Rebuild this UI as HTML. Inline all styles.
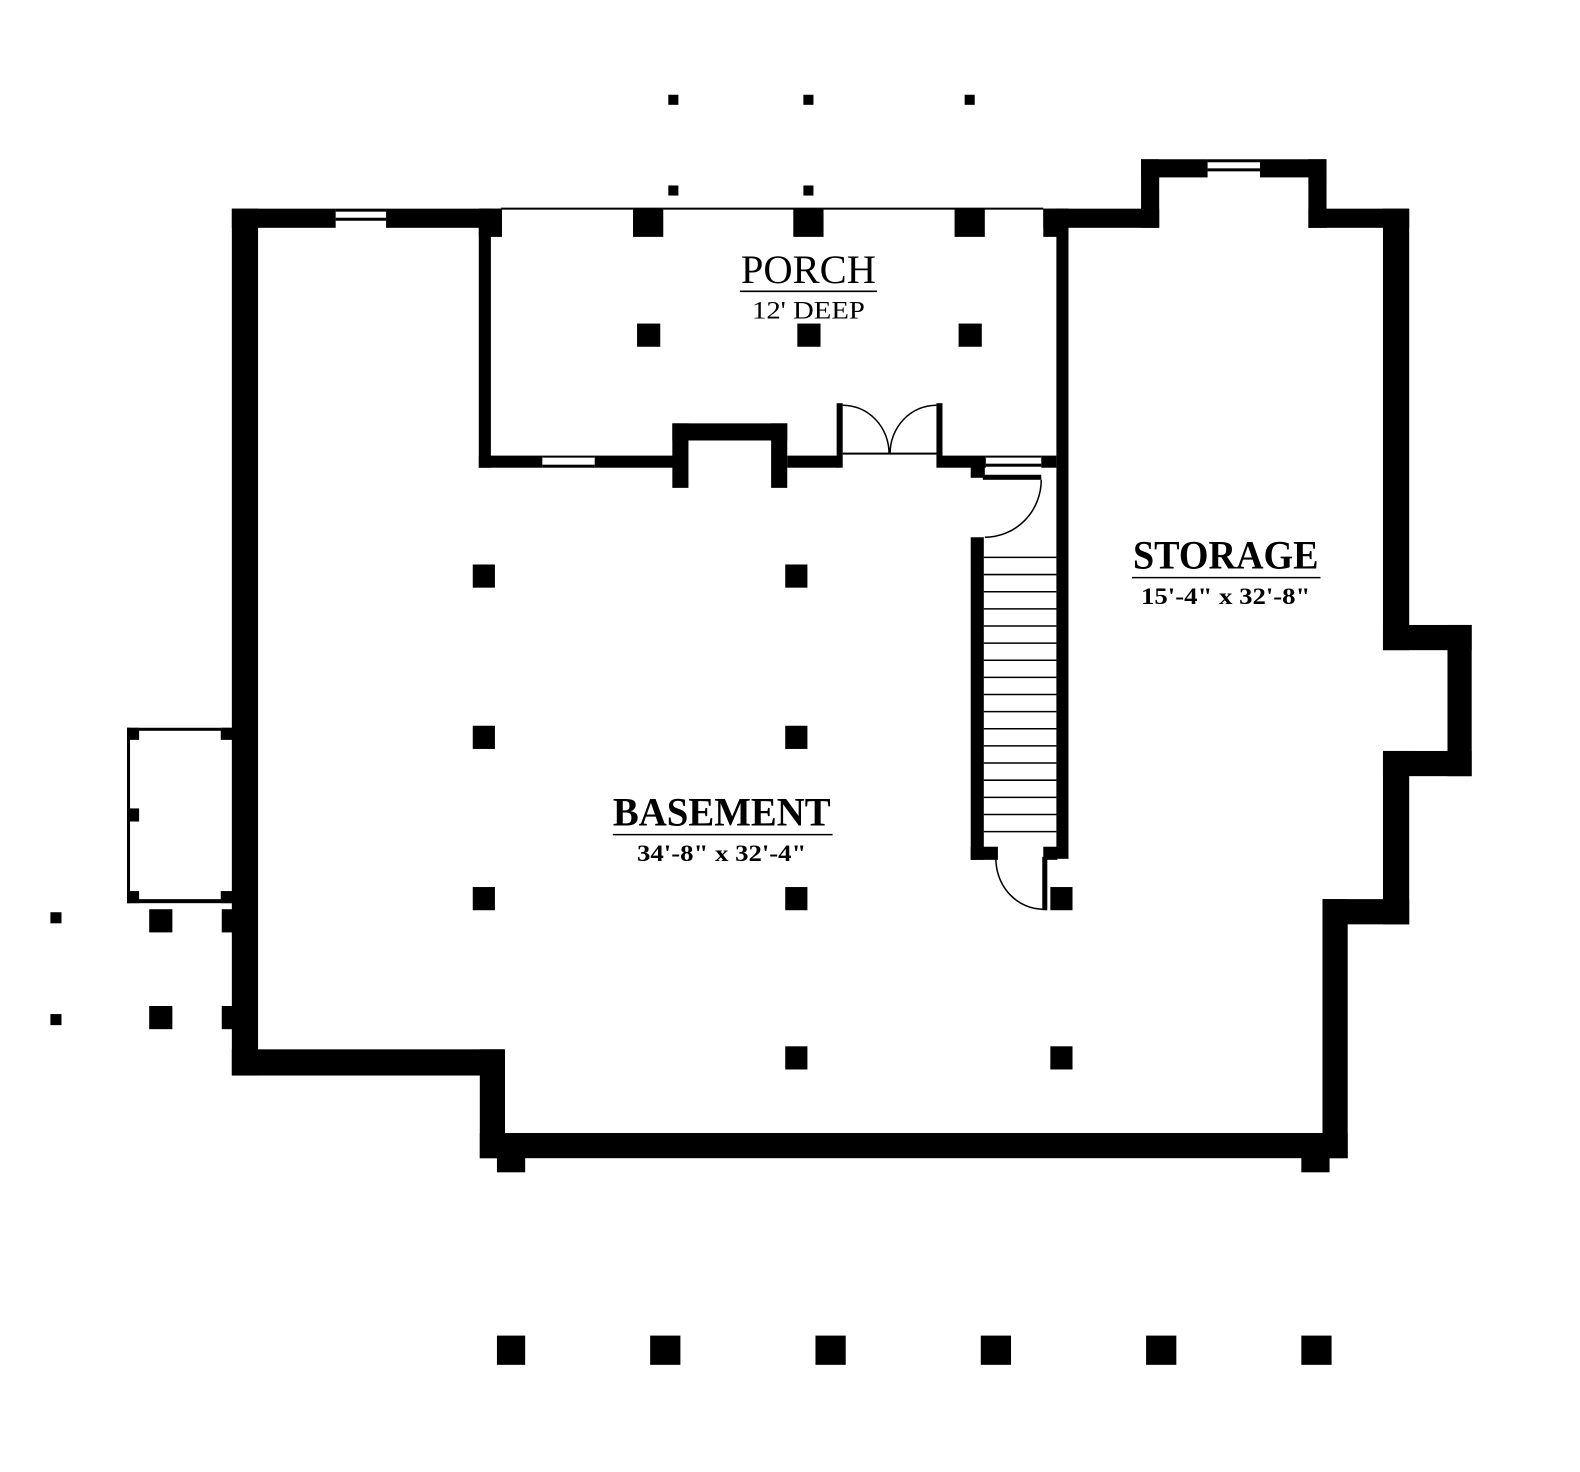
<!DOCTYPE html>
<html><head><style>html,body{margin:0;padding:0;background:#fff}svg{display:block}</style></head>
<body>
<svg width="1580" height="1472" viewBox="0 0 1580 1472" xmlns="http://www.w3.org/2000/svg">
<g transform="scale(1.008)">
<g fill="#000">
<rect x="230" y="207" width="103" height="19"/>
<rect x="383" y="207" width="114" height="19"/>
<rect x="333" y="207" width="50" height="3"/><rect x="333" y="216" width="50" height="3"/>
<rect x="230" y="207" width="26" height="860"/>
<rect x="230" y="1041" width="270" height="26"/>
<rect x="476" y="1041" width="25" height="108"/>
<rect x="476" y="1124" width="861" height="25"/>
<rect x="1312" y="892" width="25" height="257"/>
<rect x="1312" y="892" width="86" height="25"/>
<rect x="1372" y="745" width="26" height="172"/>
<rect x="1372" y="745" width="88" height="25"/>
<rect x="1436" y="620" width="24" height="150"/>
<rect x="1372" y="620" width="88" height="25"/>
<rect x="1372" y="207" width="26" height="438"/>
<rect x="1298" y="207" width="100" height="19"/>
<rect x="1298" y="158" width="18" height="68"/>
<rect x="1250" y="158" width="66" height="18"/>
<rect x="1132" y="158" width="66" height="18"/>
<rect x="1198" y="158" width="52" height="3"/><rect x="1198" y="167" width="52" height="3"/>
<rect x="1132" y="158" width="18" height="68"/>
<rect x="1035" y="207" width="115" height="19"/>
<rect x="497" y="206" width="538" height="2"/>
<rect x="475" y="207" width="23" height="28"/>
<rect x="475" y="207" width="12" height="257"/>
<rect x="1035" y="207" width="25" height="28"/>
<rect x="1048" y="207" width="12" height="645"/>
<rect x="628" y="207" width="30" height="28"/>
<rect x="787" y="207" width="30" height="28"/>
<rect x="947" y="207" width="30" height="28"/>
<rect x="632" y="321" width="23" height="23"/>
<rect x="791" y="321" width="23" height="23"/>
<rect x="951" y="321" width="23" height="23"/>
<rect x="663" y="94" width="10" height="10"/><rect x="797" y="94" width="10" height="10"/><rect x="957" y="94" width="10" height="10"/>
<rect x="663" y="184" width="10" height="10"/><rect x="797" y="184" width="10" height="10"/>
<rect x="475" y="452" width="63" height="12"/>
<rect x="538" y="452" width="52" height="2"/><rect x="538" y="461" width="52" height="3"/>
<rect x="590" y="452" width="78" height="12"/>
<rect x="667" y="420" width="114" height="17"/>
<rect x="667" y="420" width="16" height="64"/>
<rect x="765" y="420" width="16" height="64"/>
<rect x="781" y="452" width="51" height="12"/>
<rect x="830" y="400" width="6" height="64"/>
<rect x="929" y="400" width="6" height="64"/>
<rect x="836" y="449" width="93" height="2"/>
<rect x="935" y="452" width="43" height="12"/>
<rect x="978" y="452" width="55" height="2"/><rect x="978" y="460" width="55" height="3"/>
<rect x="1033" y="452" width="15" height="12"/>
<rect x="963" y="462" width="14" height="12"/>
<rect x="975" y="471" width="58" height="5"/>
<rect x="963" y="533" width="13" height="320"/>
<rect x="963" y="840" width="27" height="13"/>
<rect x="1035" y="840" width="14" height="13"/>
<rect x="1034" y="850" width="5" height="53"/>
<rect x="1042" y="880" width="22" height="23"/>
<rect x="469" y="560" width="22" height="23"/><rect x="779" y="560" width="22" height="23"/>
<rect x="469" y="720" width="22" height="23"/><rect x="779" y="720" width="22" height="23"/>
<rect x="469" y="880" width="22" height="23"/><rect x="779" y="880" width="22" height="23"/>
<rect x="779" y="1038" width="22" height="23"/><rect x="1042" y="1038" width="22" height="23"/>
<rect x="493" y="1148" width="28" height="15"/><rect x="1291" y="1148" width="28" height="15"/>
<rect x="493" y="1325" width="28" height="29"/><rect x="645" y="1325" width="30" height="29"/>
<rect x="809" y="1325" width="30" height="29"/><rect x="973" y="1325" width="30" height="29"/>
<rect x="1137" y="1325" width="30" height="29"/><rect x="1291" y="1325" width="30" height="29"/>
<rect x="126" y="722" width="104" height="3"/>
<rect x="126" y="892" width="104" height="4"/>
<rect x="126" y="722" width="3" height="174"/>
<rect x="126" y="722" width="12" height="12"/><rect x="219" y="722" width="12" height="12"/>
<rect x="126" y="884" width="12" height="12"/><rect x="219" y="884" width="12" height="12"/>
<rect x="126" y="802" width="12" height="13"/>
<rect x="148" y="902" width="23" height="23"/><rect x="148" y="998" width="23" height="23"/>
<rect x="220" y="902" width="12" height="23"/><rect x="220" y="998" width="12" height="23"/>
<rect x="50" y="905" width="11" height="11"/><rect x="50" y="1006" width="11" height="11"/>
</g>
<g stroke="#000" fill="none" stroke-width="1.5">
<path d="M836 402 A46 48 0 0 1 882 450"/>
<path d="M929 402 A46 48 0 0 0 883 450"/>
<path d="M1033 476 A56 57 0 0 1 977 533"/>
<path d="M988 852 A47 50 0 0 0 1035 902"/>
<line x1="976" y1="553" x2="1048" y2="553"/><line x1="976" y1="570" x2="1048" y2="570"/>
<line x1="976" y1="587" x2="1048" y2="587"/><line x1="976" y1="604" x2="1048" y2="604"/>
<line x1="976" y1="621" x2="1048" y2="621"/><line x1="976" y1="638" x2="1048" y2="638"/>
<line x1="976" y1="655" x2="1048" y2="655"/><line x1="976" y1="672" x2="1048" y2="672"/>
<line x1="976" y1="689" x2="1048" y2="689"/><line x1="976" y1="706" x2="1048" y2="706"/>
<line x1="976" y1="723" x2="1048" y2="723"/><line x1="976" y1="740" x2="1048" y2="740"/>
<line x1="976" y1="757" x2="1048" y2="757"/><line x1="976" y1="774" x2="1048" y2="774"/>
<line x1="976" y1="791" x2="1048" y2="791"/><line x1="976" y1="808" x2="1048" y2="808"/>
<line x1="976" y1="825" x2="1048" y2="825"/>
<line x1="734" y1="289" x2="870" y2="289"/>
<line x1="1123" y1="573" x2="1310" y2="573"/>
<line x1="608" y1="828" x2="826" y2="828"/>
</g>
<g font-family="'Liberation Serif', serif" fill="#000" text-anchor="middle">
<text x="802" y="281" font-size="40" textLength="134" lengthAdjust="spacingAndGlyphs">PORCH</text>
<text x="802" y="316" font-size="25" textLength="112" lengthAdjust="spacingAndGlyphs">12' DEEP</text>
<text x="1216" y="564" font-size="40" font-weight="bold" textLength="184" lengthAdjust="spacingAndGlyphs">STORAGE</text>
<text x="1216" y="599" font-size="23" font-weight="bold" textLength="168" lengthAdjust="spacingAndGlyphs">15'-4" x 32'-8"</text>
<text x="716" y="819" font-size="40" font-weight="bold" textLength="216" lengthAdjust="spacingAndGlyphs">BASEMENT</text>
<text x="716" y="854" font-size="23" font-weight="bold" textLength="168" lengthAdjust="spacingAndGlyphs">34'-8" x 32'-4"</text>
</g>
</g>
</svg>
</body></html>
